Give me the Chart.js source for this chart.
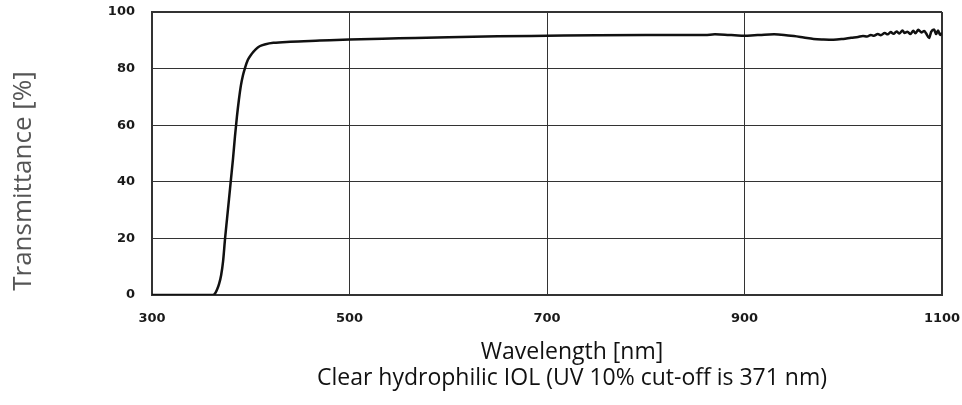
<!DOCTYPE html>
<html>
<head>
<meta charset="utf-8">
<script src="https://cdn.jsdelivr.net/npm/chart.js@4.4.1/dist/chart.umd.min.js"></script>
<style>
  body { margin: 0; background: #fff; }
</style>
</head>
<body>
<canvas id="iolChart" width="962" height="405"></canvas>
<script>
// wavelength in nm, transmittance in %
const wavelengths = [
    300, 330, 362, 364, 366, 368, 370, 372, 374, 376, 378, 380, 382, 384, 386, 388, 390,
    392, 394, 397, 401, 405, 409, 415, 423, 440, 470, 500, 550, 600, 650, 700, 750, 800,
    850, 860, 870, 880, 890, 900, 910, 920, 930, 940, 950, 960, 970, 980, 990, 1000, 1008,
    1015, 1020, 1024, 1028, 1031, 1035, 1038, 1042, 1045, 1048, 1051, 1054, 1057, 1060,
    1062, 1065, 1068, 1071, 1073, 1076, 1079, 1082, 1084, 1087, 1089, 1092, 1094, 1096,
    1098, 1100
];
const transmittance = [
    0, 0, 0, 0.6, 2, 4, 7, 12, 20, 27, 34, 41, 48, 56, 63, 69, 74,
    77.5, 80, 83, 85.2, 86.8, 87.9, 88.6, 89.1, 89.5, 89.9, 90.3, 90.7, 91.1, 91.4, 91.6, 91.8, 91.9,
    91.9, 91.9, 92.1, 92, 91.8, 91.6, 91.8, 92, 92.1, 91.9, 91.5, 91, 90.5, 90.3, 90.2, 90.5, 90.9,
    91.2, 91.5, 91.3, 91.9, 91.6, 92.2, 91.8, 92.6, 92.1, 92.9, 92.3, 93.1, 92.4, 93.5,
    92.6, 93, 92.2, 93.4, 92.5, 93.7, 92.8, 93.3, 92.4, 90.8, 93, 93.8, 92.2, 93.5,
    91.9, 92.6
];

const xTicks = [300, 500, 700, 900, 1100];
const yTicks = [0, 20, 40, 60, 80, 100];

const xTitle = 'Wavelength [nm]';
const caption = 'Clear hydrophilic IOL (UV 10% cut-off is 371 nm)';
const yTitle = 'Transmittance [%]';

const tickFont = { family: '"DejaVu Sans", Verdana, sans-serif', size: 13, weight: 'bold' };

// axis titles sit off-centre in the original, so they are drawn here
const titlesPlugin = {
    id: 'titles',
    afterDraw(chart) {
        const { ctx, chartArea } = chart;
        ctx.save();
        ctx.textAlign = 'center';
        ctx.textBaseline = 'middle';
        ctx.fillStyle = '#111';
        ctx.font = '23px "Open Sans", sans-serif';
        const cx = chartArea.left + 420;
        ctx.fillText(xTitle, cx, chartArea.bottom + 57);
        ctx.fillText(caption, cx, chartArea.bottom + 83);

        ctx.translate(24, chartArea.top + 169);
        ctx.rotate(-Math.PI / 2);
        ctx.fillStyle = '#555';
        ctx.font = '26px "Open Sans", sans-serif';
        ctx.fillText(yTitle, 0, 0);
        ctx.restore();
    }
};

const iolData = {
    datasets: [{
        data: wavelengths.map((w, i) => ({ x: w, y: transmittance[i] })),
        borderColor: '#111',
        borderWidth: 2.5,
        pointRadius: 0,
        cubicInterpolationMode: 'monotone',
        fill: false,
    }]
};

const iolConfig = {
    type: 'line',
    data: iolData,
    options: {
        responsive: false,
        animation: false,
        layout: {
            padding: { top: 12, right: 20, left: 0, bottom: 0 }
        },
        scales: {
            x: {
                type: 'linear',
                min: 300,
                max: 1100,
                afterBuildTicks: scale => { scale.ticks = xTicks.map(v => ({ value: v })); },
                afterFit: scale => {
                    scale.height = 110;
                    scale.paddingLeft = 0;
                    scale.paddingRight = 0;
                },
                grid: {
                    color: '#333',
                    lineWidth: ctx => (ctx.tick && ctx.tick.value === 1100 ? 2 : 1),
                    drawTicks: false,
                },
                border: { color: '#333', width: 2 },
                ticks: {
                    font: tickFont,
                    color: '#1a1a1a',
                    padding: 16,
                    maxRotation: 0,
                    callback: value => String(value),
                },
            },
            y: {
                min: 0,
                max: 100,
                afterBuildTicks: scale => { scale.ticks = yTicks.map(v => ({ value: v })); },
                afterFit: scale => {
                    scale.width = 152;
                    scale.paddingTop = 0;
                    scale.paddingBottom = 0;
                },
                grid: {
                    color: '#333',
                    lineWidth: ctx => (ctx.tick && ctx.tick.value === 100 ? 2 : 1),
                    drawTicks: false,
                },
                border: { color: '#333', width: 2 },
                ticks: {
                    font: tickFont,
                    color: '#1a1a1a',
                    padding: 17,
                    callback: value => String(value),
                },
            }
        },
        plugins: {
            legend: { display: false },
            tooltip: { enabled: false },
        }
    },
    plugins: [titlesPlugin],
};

const iolCtx = document.getElementById('iolChart').getContext('2d');
new Chart(iolCtx, iolConfig);
</script>
</body>
</html>
